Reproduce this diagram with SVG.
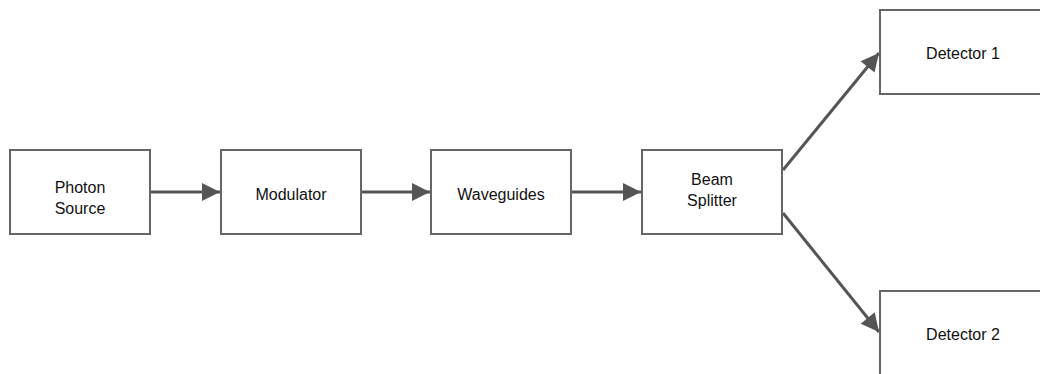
<svg xmlns="http://www.w3.org/2000/svg" width="1040" height="374" viewBox="0 0 1040 374">
<defs>
<style>
.box{fill:#fff;stroke:#666;stroke-width:2}
.lbl{font-family:"Liberation Sans",Arial,sans-serif;font-size:16px;fill:#111;text-anchor:middle}
.edge{stroke:#555;stroke-width:3;fill:none}
</style>
<marker id="ah" viewBox="0 0 10 10" refX="10" refY="5" markerWidth="7" markerHeight="6" markerUnits="strokeWidth" orient="auto">
<path d="M0,0 L10,5 L0,10 z" fill="#555"/>
</marker>
</defs>
<rect width="1040" height="374" fill="#fff"/>
<g id="connectors">
<line class="edge" x1="151" y1="192" x2="220" y2="192" marker-end="url(#ah)"/>
<line class="edge" x1="362" y1="192" x2="430" y2="192" marker-end="url(#ah)"/>
<line class="edge" x1="572" y1="192" x2="641" y2="192" marker-end="url(#ah)"/>
<line class="edge" x1="783" y1="170" x2="879" y2="53" marker-end="url(#ah)"/>
<line class="edge" x1="783" y1="213" x2="879" y2="332" marker-end="url(#ah)"/>
</g>
<g id="photon-source">
<rect class="box" x="10" y="150" width="140" height="84"/>
<text class="lbl" x="80" y="193">Photon</text>
<text class="lbl" x="80" y="214">Source</text>
</g>
<g id="modulator">
<rect class="box" x="221" y="150" width="140" height="84"/>
<text class="lbl" x="291" y="200">Modulator</text>
</g>
<g id="waveguides">
<rect class="box" x="431" y="150" width="140" height="84"/>
<text class="lbl" x="501" y="200">Waveguides</text>
</g>
<g id="beam-splitter">
<rect class="box" x="642" y="150" width="140" height="84"/>
<text class="lbl" x="712" y="185">Beam</text>
<text class="lbl" x="712" y="206">Splitter</text>
</g>
<g id="detector-1">
<rect class="box" x="880" y="10" width="166" height="84"/>
<text class="lbl" x="963" y="59">Detector 1</text>
</g>
<g id="detector-2">
<rect class="box" x="880" y="291" width="166" height="90"/>
<text class="lbl" x="963" y="340">Detector 2</text>
</g>
</svg>
